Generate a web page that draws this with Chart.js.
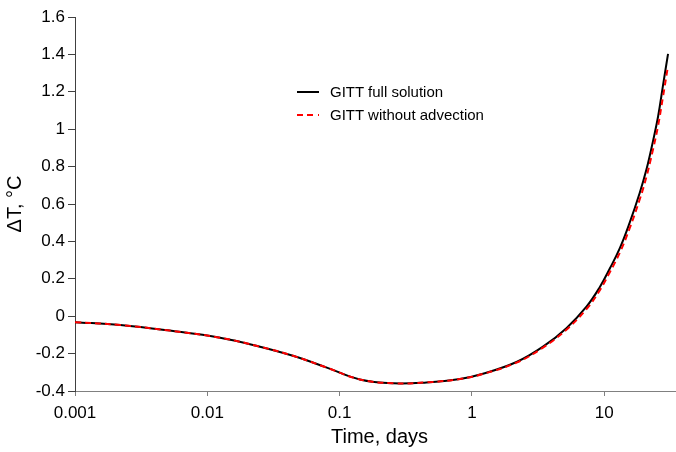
<!DOCTYPE html>
<html>
<head>
<meta charset="utf-8">
<script src="https://cdn.jsdelivr.net/npm/chart.js@4.4.1/dist/chart.umd.min.js"></script>
<style>
  html, body { margin: 0; padding: 0; background: #fff; overflow: hidden; }
  #wrap { position: relative; width: 684px; height: 452px; }
  .leg { position: absolute; left: 297px; font: 15px "Liberation Sans", Arial, sans-serif; color: #000; white-space: nowrap; }
  .leg .smp { display: inline-block; width: 22px; height: 2px; vertical-align: middle; margin-right: 11px; position: relative; top: -1px; }
</style>
</head>
<body>
<div id="wrap">
  <canvas id="c" width="684" height="452"></canvas>
  <div class="leg" style="top:83px"><span class="smp" style="background:#000"></span><span id="l0"></span></div>
  <div class="leg" style="top:106px"><span class="smp" style="background:repeating-linear-gradient(to right,#ff0000 0 6px,transparent 6px 10.5px)"></span><span id="l1"></span></div>
</div>
<script>
// time in days
const TIME_DAYS = [0.001, 0.0022, 0.0052, 0.0125, 0.025, 0.045, 0.08, 0.142, 0.254, 0.453, 0.81, 1.21, 2.17, 3.44, 5.17, 7.33, 9.23, 11.0, 13.1, 15.5, 18.5, 20.8, 23.3, 25.5, 27.7, 30.3];
const DT_FULL   = [-0.032, -0.047, -0.077, -0.115, -0.163, -0.213, -0.275, -0.338, -0.359, -0.354, -0.336, -0.308, -0.245, -0.163, -0.064, 0.051, 0.155, 0.255, 0.364, 0.498, 0.659, 0.784, 0.935, 1.069, 1.23, 1.403];
const DT_NO_ADV = [-0.032, -0.047, -0.077, -0.115, -0.163, -0.213, -0.275, -0.338, -0.359, -0.354, -0.336, -0.309, -0.248, -0.168, -0.072, 0.038, 0.138, 0.235, 0.34, 0.468, 0.624, 0.745, 0.89, 1.02, 1.17, 1.34];
const X_TICKS = [0.001, 0.01, 0.1, 1, 10];
const LABELS  = ['GITT full solution', 'GITT without advection'];

const FONT = '"Liberation Sans", Arial, sans-serif';
const pts = ys => TIME_DAYS.map((t, i) => ({ x: t, y: ys[i] }));

document.getElementById('l0').textContent = LABELS[0];
document.getElementById('l1').textContent = LABELS[1];

new Chart(document.getElementById('c'), {
  type: 'line',
  data: {
    datasets: [
      { label: LABELS[0], data: pts(DT_FULL), borderColor: '#000', borderWidth: 2, pointRadius: 0, tension: 0.4, order: 2 },
      { label: LABELS[1], data: pts(DT_NO_ADV), borderColor: '#ff0000', borderWidth: 2, borderDash: [6, 4], pointRadius: 0, tension: 0.4, order: 1 },
    ],
  },
  options: {
    responsive: false, animation: false, devicePixelRatio: 1,
    layout: { padding: { top: 17, left: 0, right: 0, bottom: 0 } },
    plugins: { legend: { display: false }, tooltip: { enabled: false } },
    scales: {
      x: {
        type: 'logarithmic', min: 0.001, max: 40,
        afterBuildTicks: s => { s.ticks = X_TICKS.map(v => ({ value: v })); },
        afterFit: s => { s.height = 61; },
        grid: { drawOnChartArea: false, drawTicks: true, tickLength: 5, color: '#808080' },
        border: { color: '#808080', width: 1 },
        ticks: { color: '#000', padding: 7, maxRotation: 0, autoSkip: false, font: { family: FONT, size: 17 }, callback: v => String(v) },
        title: { display: true, text: 'Time, days', color: '#000', font: { family: FONT, size: 20 }, padding: { top: 0, bottom: 3 } },
      },
      y: {
        min: -0.4, max: 1.6,
        afterFit: s => { s.width = 75; },
        grid: { drawOnChartArea: false, drawTicks: true, tickLength: 7, color: '#404040' },
        border: { color: '#404040', width: 1 },
        ticks: { stepSize: 0.2, color: '#000', padding: 3, font: { family: FONT, size: 17 }, callback: v => String(Number(v.toFixed(1))) },
        title: { display: true, text: 'ΔT, °C', color: '#000', font: { family: FONT, size: 20 }, padding: { top: 3, bottom: 0 } },
      },
    },
  },
});
</script>
</body>
</html>
